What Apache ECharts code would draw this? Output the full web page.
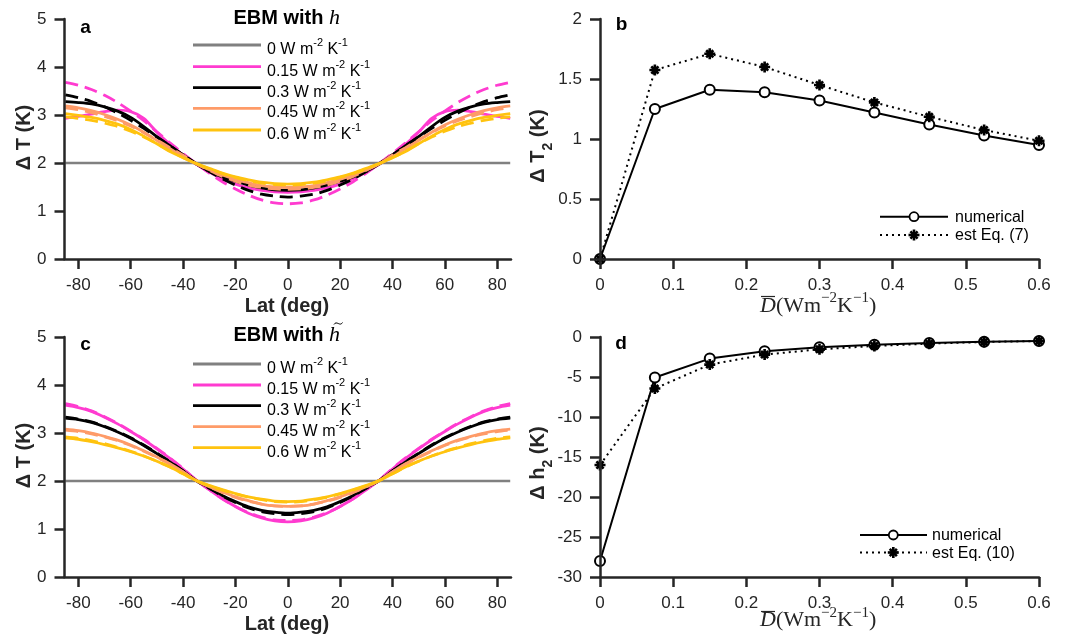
<!DOCTYPE html>
<html>
<head>
<meta charset="utf-8">
<script src="https://cdn.jsdelivr.net/npm/echarts@6/dist/echarts.min.js"></script>
<style>
  html, body { margin: 0; padding: 0; background: #fff; }
  #chart { width: 1069px; height: 639px; }
</style>
</head>
<body>
<div id="chart"></div>
<script>
// Latitude grid of the EBM temperature-change profiles (deg)
const lat = [-85,-80,-75,-70,-65,-60,-55,-50,-45,-40,-35,-30,-25,-20,-15,-10,-5,0,5,10,15,20,25,30,35,40,45,50,55,60,65,70,75,80,85];
const latTicks = [-80,-60,-40,-20,0,20,40,60,80];

// Uniform forcing reference (0 W m-2 K-1)
const flatLat = [-85, 85];
const flatDT = [2, 2];

// Panel a: EBM with h — solid = numerical, dashed = estimate
const pinkSolidA   = [2.93,2.97,3.02,3.07,3.10,3.07,2.93,2.64,2.39,2.17,1.98,1.81,1.67,1.56,1.48,1.43,1.40,1.39,1.40,1.43,1.48,1.56,1.67,1.81,1.98,2.17,2.39,2.64,2.93,3.07,3.10,3.07,3.02,2.97,2.93];
const pinkDashA    = [3.68,3.62,3.53,3.41,3.26,3.08,2.88,2.65,2.42,2.20,1.99,1.79,1.61,1.46,1.33,1.23,1.17,1.15,1.17,1.23,1.33,1.46,1.61,1.79,1.99,2.20,2.42,2.65,2.88,3.08,3.26,3.41,3.53,3.62,3.68];
const blackSolidA  = [3.28,3.26,3.23,3.17,3.08,2.95,2.76,2.55,2.36,2.17,1.98,1.83,1.71,1.62,1.54,1.48,1.44,1.43,1.44,1.48,1.54,1.62,1.71,1.83,1.98,2.17,2.36,2.55,2.76,2.95,3.08,3.17,3.23,3.26,3.28];
const blackDashA   = [3.42,3.36,3.28,3.17,3.04,2.89,2.72,2.54,2.36,2.17,1.99,1.82,1.67,1.54,1.43,1.35,1.31,1.29,1.31,1.35,1.43,1.54,1.67,1.82,1.99,2.17,2.36,2.54,2.72,2.89,3.04,3.17,3.28,3.36,3.42];
const salmonSolidA = [3.19,3.15,3.09,3.01,2.91,2.79,2.64,2.47,2.30,2.13,1.98,1.86,1.75,1.66,1.59,1.53,1.50,1.49,1.50,1.53,1.59,1.66,1.75,1.86,1.98,2.13,2.30,2.47,2.64,2.79,2.91,3.01,3.09,3.15,3.19];
const salmonDashA  = [3.15,3.11,3.05,2.97,2.88,2.77,2.63,2.48,2.32,2.16,1.99,1.85,1.72,1.62,1.54,1.49,1.46,1.45,1.46,1.49,1.54,1.62,1.72,1.85,1.99,2.16,2.32,2.48,2.63,2.77,2.88,2.97,3.05,3.11,3.15];
const yellowSolidA = [3.03,2.99,2.95,2.89,2.81,2.70,2.56,2.40,2.24,2.11,1.99,1.89,1.79,1.71,1.65,1.60,1.57,1.56,1.57,1.60,1.65,1.71,1.79,1.89,1.99,2.11,2.24,2.40,2.56,2.70,2.81,2.89,2.95,2.99,3.03];
const yellowDashA  = [2.96,2.93,2.89,2.83,2.76,2.66,2.54,2.40,2.25,2.11,1.99,1.88,1.78,1.70,1.63,1.58,1.55,1.54,1.55,1.58,1.63,1.70,1.78,1.88,1.99,2.11,2.25,2.40,2.54,2.66,2.76,2.83,2.89,2.93,2.96];

// Panel c: EBM with h-tilde
const pinkSolidC   = [3.58,3.53,3.45,3.33,3.19,3.03,2.86,2.67,2.47,2.25,2.02,1.82,1.63,1.47,1.33,1.23,1.17,1.15,1.17,1.23,1.33,1.47,1.63,1.82,2.02,2.25,2.47,2.67,2.86,3.03,3.19,3.33,3.45,3.53,3.58];
const pinkDashC    = [3.61,3.55,3.46,3.34,3.20,3.04,2.87,2.68,2.48,2.26,2.02,1.82,1.63,1.47,1.34,1.25,1.19,1.18,1.19,1.25,1.34,1.47,1.63,1.82,2.02,2.26,2.48,2.68,2.87,3.04,3.20,3.34,3.46,3.55,3.61];
const blackSolidC  = [3.31,3.28,3.22,3.13,3.02,2.89,2.74,2.57,2.40,2.21,2.01,1.86,1.70,1.57,1.46,1.39,1.35,1.33,1.35,1.39,1.46,1.57,1.70,1.86,2.01,2.21,2.40,2.57,2.74,2.89,3.02,3.13,3.22,3.28,3.31];
const blackDashC   = [3.33,3.29,3.23,3.14,3.03,2.90,2.75,2.58,2.40,2.21,2.01,1.85,1.69,1.55,1.44,1.36,1.32,1.30,1.32,1.36,1.44,1.55,1.69,1.85,2.01,2.21,2.40,2.58,2.75,2.90,3.03,3.14,3.23,3.29,3.33];
const salmonSolidC = [3.08,3.05,3.00,2.93,2.85,2.75,2.63,2.50,2.36,2.19,2.01,1.88,1.77,1.67,1.59,1.52,1.48,1.47,1.48,1.52,1.59,1.67,1.77,1.88,2.01,2.19,2.36,2.50,2.63,2.75,2.85,2.93,3.00,3.05,3.08];
const salmonDashC  = [3.06,3.03,2.98,2.92,2.84,2.74,2.62,2.49,2.35,2.19,2.01,1.88,1.76,1.66,1.58,1.52,1.48,1.47,1.48,1.52,1.58,1.66,1.76,1.88,2.01,2.19,2.35,2.49,2.62,2.74,2.84,2.92,2.98,3.03,3.06];
const yellowSolidC = [2.90,2.87,2.82,2.76,2.69,2.61,2.52,2.41,2.29,2.15,2.01,1.91,1.82,1.74,1.67,1.62,1.58,1.57,1.58,1.62,1.67,1.74,1.82,1.91,2.01,2.15,2.29,2.41,2.52,2.61,2.69,2.76,2.82,2.87,2.90];
const yellowDashC  = [2.92,2.89,2.84,2.78,2.70,2.62,2.52,2.41,2.29,2.15,2.01,1.90,1.81,1.73,1.66,1.61,1.57,1.56,1.57,1.61,1.66,1.73,1.81,1.90,2.01,2.15,2.29,2.41,2.52,2.62,2.70,2.78,2.84,2.89,2.92];

// Panels b and d: second-mode amplitudes versus mean diffusivity
const dBar = [0, 0.075, 0.15, 0.225, 0.3, 0.375, 0.45, 0.525, 0.6];
const dT2Numerical = [0, 1.25, 1.41, 1.39, 1.32, 1.22, 1.12, 1.03, 0.95];
const dT2Estimate  = [0, 1.575, 1.71, 1.60, 1.45, 1.305, 1.185, 1.075, 0.985];
const dh2Numerical = [-28.0, -5.07, -2.7, -1.79, -1.29, -0.96, -0.75, -0.58, -0.5];
const dh2Estimate  = [-16.0, -6.44, -3.45, -2.2, -1.54, -1.12, -0.83, -0.62, -0.5];

const legendLabels = ['0', '0.15', '0.3', '0.45', '0.6'];

const SANS = '"Liberation Sans", Arial, Helvetica, sans-serif';
const SERIF = '"Liberation Serif", "DejaVu Serif", "Times New Roman", serif';
const INK = '#262626';
const GRAY = '#808080', PINK = '#ff3bd0', BLACK = '#000000', SALMON = '#fe9b68', YELLOW = '#ffc30f';
// asterisk marker: four bars on a 10x10 box
const STAR_BARS = [
  [[0, 3.8], [10, 3.8], [10, 6.2], [0, 6.2]],
  [[3.8, 0], [6.2, 0], [6.2, 10], [3.8, 10]],
  [[0.9, 2.6], [2.6, 0.9], [9.1, 7.4], [7.4, 9.1]],
  [[7.4, 0.9], [9.1, 2.6], [2.6, 9.1], [0.9, 7.4]]
];
const STAR = STAR_BARS.map(b => 'M' + b.map(p => p.join(',')).join(' L') + ' Z').join(' ');

const pairs = (xs, ys) => xs.map((x, i) => [x, ys[i]]);

// axes sit on their own canvas layer, above the plotted lines
function axisBase() {
  return {
    type: 'value', zlevel: 1, z: 10,
    axisLine: { show: true, onZero: false, lineStyle: { color: INK, width: 2.5 } },
    axisTick: { show: true, inside: false, length: 10, lineStyle: { color: INK, width: 2.5 } },
    axisLabel: { color: INK, fontSize: 17, fontFamily: SANS, margin: 18 },
    splitLine: { show: false }
  };
}

function profile(name, values, color, dashed, axis) {
  return {
    type: 'line', name: name, xAxisIndex: axis, yAxisIndex: axis,
    data: pairs(lat, values), smooth: 0.3, symbol: 'none', showSymbol: false,
    silent: true, emphasis: { disabled: true },
    lineStyle: { color: color, width: 2.8, type: dashed ? [13, 7] : 'solid' }
  };
}

function flat(axis) {
  return {
    type: 'line', xAxisIndex: axis, yAxisIndex: axis, data: pairs(flatLat, flatDT),
    symbol: 'none', silent: true, emphasis: { disabled: true },
    lineStyle: { color: GRAY, width: 2.6 }
  };
}

function numerical(values, axis) {
  return {
    type: 'line', xAxisIndex: axis, yAxisIndex: axis, data: pairs(dBar, values), z: 2,
    symbol: 'emptyCircle', symbolSize: 10, showSymbol: true, silent: true,
    emphasis: { disabled: true },
    itemStyle: { color: BLACK, borderColor: BLACK, borderWidth: 1.8 },
    lineStyle: { color: BLACK, width: 2 }
  };
}

function estimate(values, axis) {
  return {
    type: 'line', xAxisIndex: axis, yAxisIndex: axis, data: pairs(dBar, values), z: 3,
    symbol: 'path://' + STAR, symbolSize: 11, showSymbol: true, silent: true,
    emphasis: { disabled: true },
    itemStyle: { color: BLACK },
    lineStyle: { color: BLACK, width: 2, type: [2, 4] }
  };
}

const xLat = (i) => Object.assign(axisBase(), {
  gridIndex: i, min: -85.3, max: 85.3,
  axisTick: Object.assign(axisBase().axisTick, { customValues: latTicks }),
  axisLabel: Object.assign(axisBase().axisLabel, { customValues: latTicks })
});
const xD = (i) => Object.assign(axisBase(), { gridIndex: i, min: 0, max: 0.6, interval: 0.1 });

// ---------- text and legend drawing ----------
const g = [];
function txt(x, y, text, o) {
  const st = Object.assign({ text: text, fill: '#000', fontFamily: SANS, fontSize: 16,
    align: 'left', verticalAlign: 'middle' }, o || {});
  st.textAlign = st.align;
  st.textVerticalAlign = st.verticalAlign;
  const rot = st.rot || 0;
  delete st.rot;
  return { type: 'text', x: x, y: y, rotation: rot, z: 5, silent: true, style: st };
}
function seg(x1, y1, x2, y2, color, w, dash) {
  const style = { stroke: color, lineWidth: w };
  if (dash) style.lineDash = dash;
  return { type: 'line', silent: true, z: 5, shape: { x1: x1, y1: y1, x2: x2, y2: y2 }, style: style };
}
function starMark(cx, cy, size) {
  const k = size / 10;
  STAR_BARS.forEach(b => {
    g.push({ type: 'polygon', silent: true, z: 6,
      shape: { points: b.map(p => [cx - size / 2 + p[0] * k, cy - size / 2 + p[1] * k]) },
      style: { fill: BLACK } });
  });
}

const legendRich = {
  t: { fontSize: 16, fontFamily: SANS, lineHeight: 20, verticalAlign: 'bottom', fill: '#000', color: '#000' },
  s: { fontSize: 11, fontFamily: SANS, lineHeight: 11, verticalAlign: 'top', fill: '#000', color: '#000' }
};
const titleRich = {
  b: { fontSize: 20, fontWeight: 'bold', fontFamily: SANS, lineHeight: 24, fill: '#000', color: '#000' },
  m: { fontSize: 22, fontStyle: 'italic', fontFamily: SERIF, lineHeight: 24, fill: '#000', color: '#000' }
};

function profileLegend(rows, title0) {
  g.push(txt(233.5, title0, '{b|EBM with }{m|h}', { rich: titleRich }));
  const cols = [GRAY, PINK, BLACK, SALMON, YELLOW];
  rows.forEach((y, i) => {
    g.push(seg(193, y, 261, y, cols[i], 2.8));
    g.push(txt(267, y - 7.5, '{t|' + legendLabels[i] + ' W m}{s|-2}{t| K}{s|-1}',
      { rich: legendRich, verticalAlign: 'top' }));
  });
}
profileLegend([45, 66.7, 87.7, 108.3, 130], 18);
profileLegend([364, 385, 405.7, 426.7, 447.7], 335.5);
// tilde over h in the lower title
g.push({ type: 'bezierCurve', silent: true, z: 5,
  shape: { x1: 334, y1: 324.5, x2: 342.5, y2: 322.5, cpx1: 336.5, cpy1: 320, cpx2: 340, cpy2: 327 },
  style: { stroke: '#000', lineWidth: 1, fill: null } });

function modeLegend(x1, x2, xm, y1, y2, xt, estLabel) {
  g.push(seg(x1, y1, x2, y1, BLACK, 2));
  g.push({ type: 'circle', silent: true, z: 6, shape: { cx: xm, cy: y1, r: 4.5 },
    style: { fill: '#fff', stroke: BLACK, lineWidth: 1.8 } });
  g.push(seg(x1, y2, x2, y2, BLACK, 2, [2, 4]));
  starMark(xm, y2, 11);
  g.push(txt(xt, y1 + 0.8, 'numerical', { fontSize: 16 }));
  g.push(txt(xt, y2 + 1, estLabel, { fontSize: 16 }));
}
modeLegend(880, 948, 914, 216.7, 235, 955, 'est Eq. (7)');
modeLegend(860, 927, 893.3, 535, 552.5, 932, 'est Eq. (10)');

// panel letters
const letter = { fontSize: 19, fontWeight: 'bold', align: 'center' };
g.push(txt(85.5, 28, 'a', letter));
g.push(txt(621.5, 25, 'b', letter));
g.push(txt(85.5, 345, 'c', letter));
g.push(txt(621, 344, 'd', letter));

// axis titles
const bold20 = { fontSize: 20, fontWeight: 'bold', align: 'center', fill: INK };
g.push(txt(24, 137.5, 'Δ T (K)', Object.assign({ rot: Math.PI / 2 }, bold20)));
g.push(txt(24, 455.5, 'Δ T (K)', Object.assign({ rot: Math.PI / 2 }, bold20)));
g.push(txt(287, 306, 'Lat (deg)', bold20));
g.push(txt(287, 624, 'Lat (deg)', bold20));

const subRich = {
  m: { fontSize: 20, fontWeight: 'bold', fontFamily: SANS, lineHeight: 20, verticalAlign: 'top', fill: INK, color: INK },
  s: { fontSize: 14, fontWeight: 'bold', fontFamily: SANS, lineHeight: 27, verticalAlign: 'bottom', fill: INK, color: INK }
};
g.push(txt(528, 146, '{m|Δ T}{s|2}{m| (K)}', { rot: Math.PI / 2, rich: subRich, align: 'center', verticalAlign: 'top' }));
g.push(txt(528, 463, '{m|Δ h}{s|2}{m| (K)}', { rot: Math.PI / 2, rich: subRich, align: 'center', verticalAlign: 'top' }));

const mathRich = {
  it: { fontSize: 22, fontStyle: 'italic', fontFamily: SERIF, lineHeight: 26, verticalAlign: 'bottom', fill: INK, color: INK },
  rm: { fontSize: 22, fontFamily: SERIF, lineHeight: 26, verticalAlign: 'bottom', fill: INK, color: INK },
  sp: { fontSize: 15, fontFamily: SERIF, lineHeight: 15, verticalAlign: 'top', fill: INK, color: INK }
};
const dLabel = '{it|D}{rm|(Wm}{sp|−2}{rm|K}{sp|−1}{rm|)}';
g.push(txt(760, 291, dLabel, { rich: mathRich, verticalAlign: 'top' }));
g.push(txt(760, 605.5, dLabel, { rich: mathRich, verticalAlign: 'top' }));
g.push(seg(761, 296.5, 775, 296.5, INK, 1.2));
g.push(seg(761, 611.5, 775, 611.5, INK, 1.2));

const option = {
  animation: false,
  backgroundColor: '#ffffff',
  grid: [
    { left: 64.5, top: 19, width: 446.5, height: 240 },
    { left: 600, top: 19, width: 439, height: 240 },
    { left: 64.5, top: 337, width: 446.5, height: 240 },
    { left: 600, top: 337, width: 439, height: 240 }
  ],
  xAxis: [xLat(0), xD(1), xLat(2), xD(3)],
  yAxis: [
    Object.assign(axisBase(), { gridIndex: 0, min: 0, max: 5, interval: 1 }),
    Object.assign(axisBase(), { gridIndex: 1, min: 0, max: 2, interval: 0.5 }),
    Object.assign(axisBase(), { gridIndex: 2, min: 0, max: 5, interval: 1 }),
    Object.assign(axisBase(), { gridIndex: 3, min: -30, max: 0, interval: 5 })
  ],
  series: [
    flat(0),
    profile('0.15', pinkSolidA, PINK, false, 0), profile('0.15 est', pinkDashA, PINK, true, 0),
    profile('0.3', blackSolidA, BLACK, false, 0), profile('0.3 est', blackDashA, BLACK, true, 0),
    profile('0.45', salmonSolidA, SALMON, false, 0), profile('0.45 est', salmonDashA, SALMON, true, 0),
    profile('0.6', yellowSolidA, YELLOW, false, 0), profile('0.6 est', yellowDashA, YELLOW, true, 0),
    numerical(dT2Numerical, 1), estimate(dT2Estimate, 1),
    flat(2),
    profile('0.15', pinkSolidC, PINK, false, 2), profile('0.15 est', pinkDashC, PINK, true, 2),
    profile('0.3', blackSolidC, BLACK, false, 2), profile('0.3 est', blackDashC, BLACK, true, 2),
    profile('0.45', salmonSolidC, SALMON, false, 2), profile('0.45 est', salmonDashC, SALMON, true, 2),
    profile('0.6', yellowSolidC, YELLOW, false, 2), profile('0.6 est', yellowDashC, YELLOW, true, 2),
    numerical(dh2Numerical, 3), estimate(dh2Estimate, 3)
  ],
  graphic: { elements: g }
};

const chart = echarts.init(document.getElementById('chart'), null, { renderer: 'canvas' });
chart.setOption(option);
</script>
</body>
</html>
